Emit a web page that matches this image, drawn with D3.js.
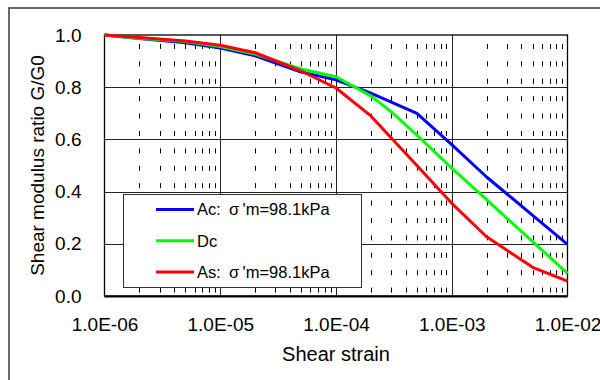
<!DOCTYPE html>
<html>
<head>
<meta charset="utf-8">
<script src="https://cdn.jsdelivr.net/npm/d3@7/dist/d3.min.js"></script>
<style>
  html, body { margin: 0; padding: 0; background: #fff; overflow: hidden; }
  svg { display: block; }
  text { font-family: "Liberation Sans", Arial, sans-serif; fill: #000; white-space: pre; }
</style>
</head>
<body>
<svg id="chart" width="600" height="380"></svg>
<script>
// Shear strain sample points and G/G0 values for each soil
const strainStd = [1e-6, 2e-6, 5e-6, 1e-5, 2e-5, 5e-5, 1e-4, 2e-4, 5e-4, 1e-3, 2e-3, 5e-3, 1e-2];
const strainDc  = [1e-6, 2e-6, 5e-6, 1e-5, 2e-5, 5e-5, 1e-4, 2e-4, 3e-4, 5e-4, 1e-3, 2e-3, 5e-3, 1e-2];
const ratioAc = [1.0, 0.987, 0.970, 0.950, 0.920, 0.858, 0.828, 0.777, 0.700, 0.580, 0.456, 0.309, 0.198];
const ratioDc = [1.0, 0.988, 0.975, 0.956, 0.927, 0.870, 0.840, 0.767, 0.706, 0.616, 0.490, 0.369, 0.208, 0.087];
const ratioAs = [1.0, 0.990, 0.977, 0.961, 0.932, 0.862, 0.797, 0.690, 0.500, 0.355, 0.227, 0.110, 0.057];

const seriesNames  = ["Ac:\u2002\u03C3\u2009'm=98.1kPa", "Dc", "As:\u2002\u03C3\u2009'm=98.1kPa"];
const seriesColors = ["#0000FF", "#00FF00", "#FF0000"];

const xTickValues = [1e-6, 1e-5, 1e-4, 1e-3, 1e-2];
const xTickLabels = ["1.0E-06", "1.0E-05", "1.0E-04", "1.0E-03", "1.0E-02"];
const yTickValues = [0, 0.2, 0.4, 0.6, 0.8, 1.0];
const yTickLabels = ["0.0", "0.2", "0.4", "0.6", "0.8", "1.0"];

const xTitle = "Shear strain";
const yTitle = "Shear modulus ratio G/G0";

const svg = d3.select("#chart");
const plot = { left: 104.5, right: 567.5, top: 35, bottom: 296 };

const x = d3.scaleLog().domain([1e-6, 1e-2]).range([plot.left, plot.right]);
const y = d3.scaleLinear().domain([0, 1]).range([plot.bottom, plot.top]);

// outer chart frame (runs past the right and bottom edges)
svg.append("rect")
  .attr("x", 9).attr("y", 8).attr("width", 800).attr("height", 600)
  .attr("fill", "#fff").attr("stroke", "#444").attr("stroke-width", 1.6);

// minor (2..9) dashed vertical lines
const minor = [];
for (let e = -6; e < -2; e++) {
  for (let m = 2; m <= 9; m++) minor.push(m * Math.pow(10, e));
}
svg.append("g").selectAll("line").data(minor).join("line")
  .attr("x1", d => Math.round(x(d)) + 0.5).attr("x2", d => Math.round(x(d)) + 0.5)
  .attr("y1", plot.top).attr("y2", plot.bottom)
  .attr("stroke", "#000").attr("stroke-width", 1)
  .attr("stroke-dasharray", "5,12.4").attr("stroke-dashoffset", 8.4);

// major gridlines
svg.append("g").selectAll("line").data(xTickValues.slice(1, -1)).join("line")
  .attr("x1", d => Math.round(x(d)) + 0.5).attr("x2", d => Math.round(x(d)) + 0.5)
  .attr("y1", plot.top).attr("y2", plot.bottom)
  .attr("stroke", "#222").attr("stroke-width", 1);
svg.append("g").selectAll("line").data(yTickValues.slice(1, -1)).join("line")
  .attr("x1", plot.left).attr("x2", plot.right)
  .attr("y1", d => Math.round(y(d)) + 0.5).attr("y2", d => Math.round(y(d)) + 0.5)
  .attr("stroke", "#222").attr("stroke-width", 1);

// plot border
svg.append("rect")
  .attr("x", plot.left).attr("y", plot.top)
  .attr("width", plot.right - plot.left).attr("height", plot.bottom - plot.top)
  .attr("fill", "none").attr("stroke", "#000").attr("stroke-width", 1.3);
svg.append("line")
  .attr("x1", plot.left).attr("x2", plot.right)
  .attr("y1", plot.bottom + 0.5).attr("y2", plot.bottom + 0.5)
  .attr("stroke", "#000").attr("stroke-width", 2);

// curves
const line = d3.line().x(d => x(d[0])).y(d => y(d[1]));
const series = [
  d3.zip(strainStd, ratioAc),
  d3.zip(strainDc, ratioDc),
  d3.zip(strainStd, ratioAs)
];
svg.append("g").selectAll("path").data(series).join("path")
  .attr("d", line)
  .attr("fill", "none")
  .attr("stroke", (d, i) => seriesColors[i])
  .attr("stroke-width", 3)
  .attr("stroke-linejoin", "round");

// axes (labels only)
const xAxis = d3.axisBottom(x).tickValues(xTickValues)
  .tickFormat((d, i) => xTickLabels[i]).tickSize(0).tickPadding(0);
const gx = svg.append("g").attr("transform", `translate(0,${plot.bottom + 21})`).call(xAxis);
gx.select(".domain").remove();
gx.selectAll("text").attr("font-size", 19).attr("dy", "0.71em")
  .attr("font-family", "'Liberation Sans', Arial, sans-serif");

const yAxis = d3.axisLeft(y).tickValues(yTickValues)
  .tickFormat((d, i) => yTickLabels[i]).tickSize(0).tickPadding(0);
const gy = svg.append("g").attr("transform", `translate(${plot.left - 23},0)`).call(yAxis);
gy.select(".domain").remove();
gy.selectAll("text").attr("font-size", 19)
  .attr("font-family", "'Liberation Sans', Arial, sans-serif");

// axis titles
svg.append("text")
  .attr("x", (plot.left + plot.right) / 2).attr("y", 361)
  .attr("text-anchor", "middle").attr("font-size", 20)
  .text(xTitle);
svg.append("text")
  .attr("transform", `translate(44,${(plot.top + plot.bottom) / 2}) rotate(-90)`)
  .attr("text-anchor", "middle").attr("font-size", 19)
  .text(yTitle);

// legend
const legend = svg.append("g");
legend.append("rect")
  .attr("x", 123.5).attr("y", 194.5).attr("width", 238).attr("height", 93)
  .attr("fill", "#fff").attr("stroke", "#333").attr("stroke-width", 1);
const items = legend.selectAll("g.item").data(seriesNames).join("g")
  .attr("class", "item")
  .attr("transform", (d, i) => `translate(0,${209.5 + i * 31.3})`);
items.append("line")
  .attr("x1", 156).attr("x2", 194).attr("y1", 0).attr("y2", 0)
  .attr("stroke", (d, i) => seriesColors[i]).attr("stroke-width", 3);
items.append("text")
  .attr("x", 197).attr("y", 0).attr("dy", "0.36em")
  .attr("font-size", 16.5)
  .text(d => d);
</script>
</body>
</html>
